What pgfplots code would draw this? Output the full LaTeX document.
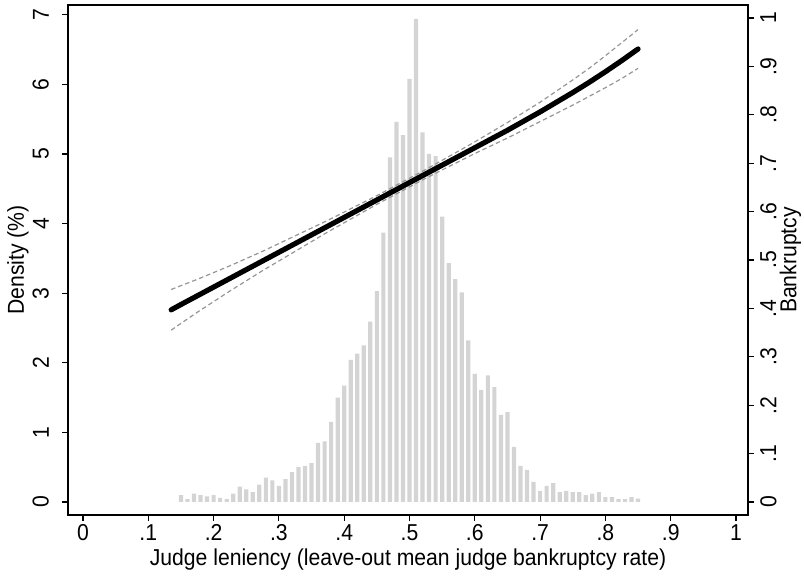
\documentclass[border=0pt]{standalone}
\usepackage{pgfplots}
\usepackage{pgfplotstable}
\pgfplotsset{compat=1.18}
\usepackage{fontspec}
\setmainfont{Liberation Sans}[FakeStretch=0.92]
\definecolor{barcol}{RGB}{212,212,212}
\definecolor{cicol}{RGB}{150,150,150}
\newcommand{\chartfont}{\fontsize{23bp}{27bp}\selectfont}

\pgfplotstableread{
x dens
0.15 0.10
0.16 0.04
0.17 0.12
0.18 0.10
0.19 0.08
0.20 0.10
0.21 0.06
0.22 0.04
0.23 0.12
0.24 0.22
0.25 0.18
0.26 0.14
0.27 0.25
0.28 0.35
0.29 0.31
0.30 0.23
0.31 0.33
0.32 0.43
0.33 0.50
0.34 0.52
0.35 0.56
0.36 0.85
0.37 0.87
0.38 1.15
0.39 1.50
0.40 1.67
0.41 2.04
0.42 2.13
0.43 2.25
0.44 2.59
0.45 3.03
0.46 3.87
0.47 4.95
0.48 5.46
0.49 5.27
0.50 6.08
0.51 6.94
0.52 5.31
0.53 5.00
0.54 4.97
0.55 4.10
0.56 3.43
0.57 3.20
0.58 3.01
0.59 2.32
0.60 1.84
0.61 1.61
0.62 1.82
0.63 1.65
0.64 1.25
0.65 1.29
0.66 0.79
0.67 0.52
0.68 0.46
0.69 0.29
0.70 0.16
0.71 0.23
0.72 0.27
0.73 0.14
0.74 0.16
0.75 0.14
0.76 0.14
0.77 0.10
0.78 0.12
0.79 0.14
0.80 0.07
0.81 0.07
0.82 0.04
0.83 0.04
0.84 0.07
0.85 0.05
}\histdata

\pgfplotstableread{
x c u l
0.135 0.397 0.439 0.355
0.150 0.408 0.447 0.369
0.175 0.426 0.460 0.392
0.200 0.444 0.474 0.414
0.225 0.462 0.488 0.436
0.250 0.480 0.503 0.457
0.275 0.498 0.518 0.478
0.300 0.516 0.534 0.498
0.325 0.534 0.550 0.518
0.350 0.552 0.566 0.538
0.375 0.570 0.582 0.558
0.400 0.588 0.599 0.577
0.425 0.606 0.616 0.596
0.450 0.624 0.633 0.615
0.475 0.642 0.651 0.633
0.500 0.660 0.669 0.651
0.525 0.678 0.687 0.669
0.550 0.696 0.706 0.686
0.575 0.714 0.725 0.703
0.600 0.732 0.744 0.720
0.625 0.750 0.764 0.736
0.650 0.768 0.784 0.752
0.675 0.787 0.805 0.769
0.700 0.806 0.826 0.786
0.725 0.826 0.849 0.803
0.750 0.846 0.872 0.820
0.775 0.867 0.896 0.838
0.800 0.889 0.922 0.856
0.825 0.912 0.949 0.875
0.850 0.936 0.976 0.896
}\fitdata

\begin{document}
\chartfont
\begin{tikzpicture}
\path[use as bounding box] (-68bp,-61bp) rectangle (736bp,515bp);
\begin{axis}[
  at={(0,0)}, anchor=south west,
  scale only axis, width=680bp, height=510bp,
  xmin=-0.023, xmax=1.0184,
  ymin=-0.187, ymax=7.14,
  axis line style={line width=1.3bp},
  tick style={black, line width=1.1bp},
  tick align=outside, major tick length=6bp,
  xtick pos=lower, ytick pos=left,
  xtick={0,0.1,0.2,0.3,0.4,0.5,0.6,0.7,0.8,0.9,1},
  xticklabels={0,.1,.2,.3,.4,.5,.6,.7,.8,.9,1},
  ytick={0,1,2,3,4,5,6,7},
  yticklabels={0,1,2,3,4,5,6,7},
  /pgf/number format/assume math mode=true,
  every tick label/.append style={font=\chartfont, inner sep=0pt},
  xticklabel style={anchor=north},
  xticklabel shift=3bp,
  yticklabel style={rotate=90, anchor=south},
  yticklabel shift=13bp,
  every axis x label/.style={at={(axis description cs:0.5,-0.088)}, anchor=center},
  every axis y label/.style={at={(axis description cs:-0.0735,0.5)}, rotate=90, anchor=center},
  xlabel={Judge leniency (leave-out mean judge bankruptcy rate)},
  ylabel={Density (\%)},
  label style={font=\chartfont},
]
\addplot[ybar, bar width=4.2bp, fill=barcol, draw=none] table[x=x, y=dens] {\histdata};
\end{axis}
\begin{axis}[
  at={(0,0)}, anchor=south west,
  scale only axis, width=680bp, height=510bp,
  xmin=-0.023, xmax=1.0184,
  ymin=-0.0269, ymax=1.0269,
  axis x line=none,
  axis y line*=right,
  axis line style={line width=1.3bp},
  tick style={black, line width=1.1bp},
  tick align=outside, major tick length=6bp,
  ytick={0,0.1,0.2,0.3,0.4,0.5,0.6,0.7,0.8,0.9,1},
  yticklabels={0,.1,.2,.3,.4,.5,.6,.7,.8,.9,1},
  /pgf/number format/assume math mode=true,
  every tick label/.append style={font=\chartfont, inner sep=0pt},
  yticklabel style={rotate=90, anchor=north},
  yticklabel shift=6bp,
  every axis y label/.style={at={(axis description cs:1.0625,0.5)}, rotate=90, anchor=center},
  ylabel={Bankruptcy},
  label style={font=\chartfont},
]
\addplot[cicol, line width=1.2bp, dash pattern=on 4.5bp off 3bp] table[x=x, y=u] {\fitdata};
\addplot[cicol, line width=1.2bp, dash pattern=on 4.5bp off 3bp] table[x=x, y=l] {\fitdata};
\addplot[black, line width=5.2bp, line cap=round, line join=round] table[x=x, y=c] {\fitdata};
\end{axis}
\end{tikzpicture}
\end{document}
